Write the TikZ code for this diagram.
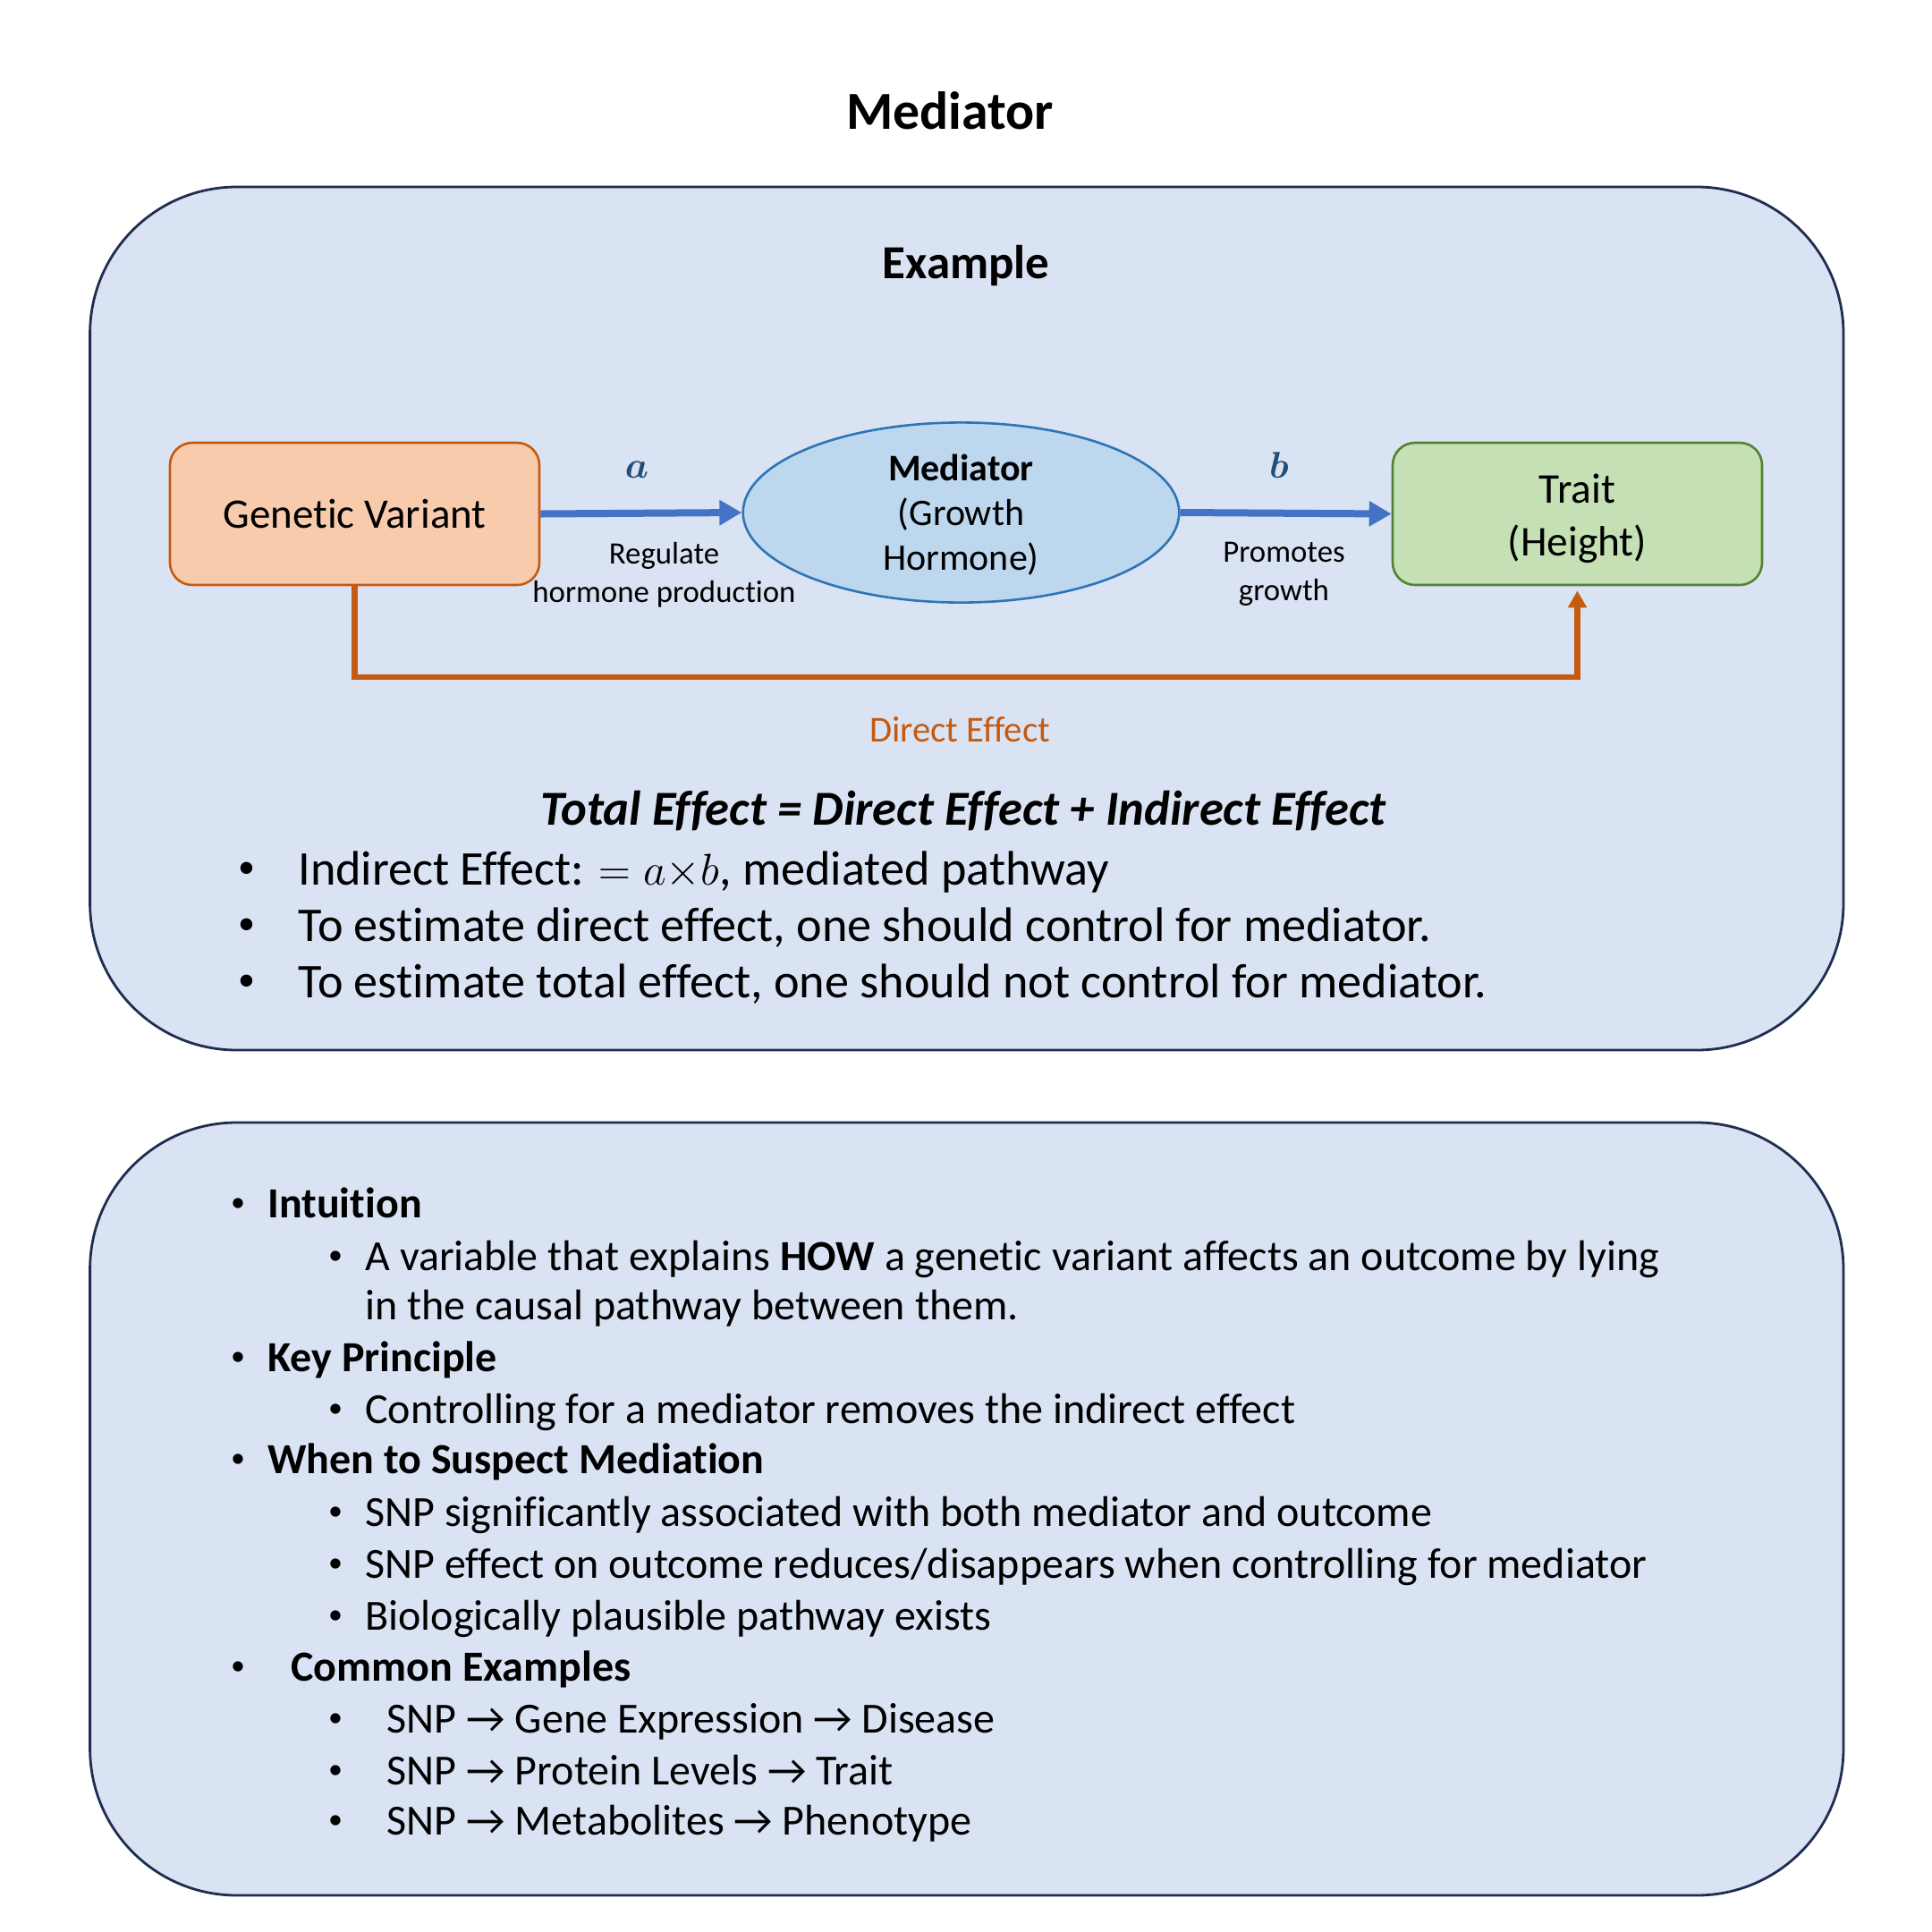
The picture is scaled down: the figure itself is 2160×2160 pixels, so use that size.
\documentclass[tikz,border=0pt]{standalone}
\usepackage{amsmath}
\usepackage{fontspec}
\setmainfont{Carlito}[Ligatures=NoCommon]
\usetikzlibrary{arrows.meta,shapes.geometric}
\definecolor{panelfill}{HTML}{DAE3F3}
\definecolor{paneldraw}{HTML}{1F2D50}
\definecolor{gvfill}{HTML}{F8CBAD}
\definecolor{gvdraw}{HTML}{C55A11}
\definecolor{medfill}{HTML}{BDD7EE}
\definecolor{meddraw}{HTML}{2E75B6}
\definecolor{trfill}{HTML}{C5E0B4}
\definecolor{trdraw}{HTML}{548235}
\definecolor{arrblue}{HTML}{4472C4}
\definecolor{arrorange}{HTML}{C55A11}
\definecolor{labblue}{HTML}{1F4E79}
\tikzset{
  panel/.style={draw=paneldraw, fill=panelfill, line width=1.4pt, rounded corners=82pt},
  varbox/.style={rectangle, rounded corners=12.5pt, line width=1.3pt, minimum width=206.5pt, minimum height=79.5pt, inner sep=0pt, align=center},
  blueconn/.style={draw=arrblue, line width=4pt, -{Triangle[length=12.5pt,width=13.5pt]}},
  orangeconn/.style={draw=arrorange, line width=3.3pt, -{Triangle[length=9.5pt,width=10pt]}},
  bigtext/.style={font=\fontsize{27.1}{32}\selectfont, inner sep=0pt},
  bigdot/.style={font=\fontsize{19}{22}\selectfont, inner sep=0pt, anchor=mid},
  lowtext/.style={font=\fontsize{24}{29}\selectfont, inner sep=0pt},
  lowdot/.style={font=\fontsize{16}{20}\selectfont, inner sep=0pt, anchor=mid},
  smalllab/.style={font=\fontsize{17.4}{21.5}\selectfont, inner sep=0pt, align=center},
}
\begin{document}
\begin{tikzpicture}[x=0.5pt,y=-0.5pt]
\useasboundingbox (0,0) rectangle (2160,2160);
\fill[white] (0,0) rectangle (2160,2160);

% title
\node[inner sep=0pt, font=\fontsize{29.9}{34}\selectfont\bfseries, anchor=mid] (title) at (1062,140) {Mediator};

% panels
\draw[panel] (100.6,209) rectangle (2061,1174);
\draw[panel] (100.6,1255) rectangle (2061,2119);

\node[inner sep=0pt, font=\fontsize{26.5}{30}\selectfont\bfseries, anchor=mid] (example) at (1080,307) {Example};

% diagram nodes
\node[varbox, draw=gvdraw, fill=gvfill, font=\fontsize{23.5}{28}\selectfont] (gv) at (396.5,574.5) {Genetic Variant};
\node[ellipse, draw=meddraw, fill=medfill, line width=1.3pt, minimum width=243.8pt, minimum height=100.6pt, inner sep=0pt] (med) at (1074.5,573) {};
\node[inner sep=0pt, align=center, font=\fontsize{21}{25}\selectfont] (medtext) at (1074.5,576) {\textbf{Mediator}\\(Growth\\Hormone)};
\node[varbox, draw=trdraw, fill=trfill] (trait) at (1763.5,574.5) {};
\node[inner sep=0pt, align=center, font=\fontsize{23.7}{29.5}\selectfont] (traittext) at (1763.5,580) {Trait\\(Height)};

% connectors
\draw[blueconn] (gv.east) -- (med.west);
\draw[blueconn] (med.east) -- (trait.west);
\coordinate (dlow) at (396.5,757);
\draw[orangeconn] (gv.south) -- (gv.south |- dlow) -| ([yshift=-2.5pt]trait.south);

% labels
\node[inner sep=0pt, text=labblue, font=\fontsize{22}{26}\selectfont, anchor=mid] (la) at (712,530) {$\boldsymbol{a}$};
\node[inner sep=0pt, text=labblue, font=\fontsize{22}{26}\selectfont, anchor=mid] (lb) at (1430,530) {$\boldsymbol{b}$};
\node[smalllab] (lreg) at (742.5,643) {Regulate\\hormone production};
\node[smalllab] (lpro) at (1435.5,641.5) {Promotes\\growth};
\node[inner sep=0pt, text=arrorange, font=\fontsize{20.4}{24}\selectfont, anchor=mid] (ldir) at (1073,825) {Direct Effect};

% formula
\node[bigtext, anchor=mid, font=\fontsize{27.3}{32}\selectfont\bfseries\itshape] (total) at (1077,918) {Total Effect = Direct Effect + Indirect Effect};

\node[bigdot] (tb1) at (275.5,977) {•};
\node[bigtext, anchor=mid west] (tt1) at (333,985) {Indirect Effect: $= a{\times}b$, mediated pathway};
\node[bigdot] (tb2) at (275.5,1040) {•};
\node[bigtext, anchor=mid west] (tt2) at (333,1048) {To estimate direct effect, one should control for mediator.};
\node[bigdot] (tb3) at (275.5,1103) {•};
\node[bigtext, anchor=mid west] (tt3) at (333,1111) {To estimate total effect, one should not control for mediator.};

% lower panel
\node[lowdot] (b1) at (266,1350) {•};
\node[lowtext, anchor=mid west] (t1) at (299,1357) {\textbf{Intuition}};
\node[lowdot] (b11) at (375,1409) {•};
\node[lowtext, anchor=mid west] (t11) at (408,1416) {A variable that explains \textbf{HOW} a genetic variant affects an outcome by lying};
\node[lowtext, anchor=mid west] (t11b) at (408,1471) {in the causal pathway between them.};
\node[lowdot] (b2) at (266,1522) {•};
\node[lowtext, anchor=mid west] (t2) at (299,1529) {\textbf{Key Principle}};
\node[lowdot] (b21) at (375,1580) {•};
\node[lowtext, anchor=mid west] (t21) at (408,1587) {Controlling for a mediator removes the indirect effect};
\node[lowdot] (b3) at (266,1636) {•};
\node[lowtext, anchor=mid west] (t3) at (299,1643) {\textbf{When to Suspect Mediation}};
\node[lowdot] (b31) at (375,1695) {•};
\node[lowtext, anchor=mid west] (t31) at (408,1702) {SNP significantly associated with both mediator and outcome};
\node[lowdot] (b32) at (375,1753) {•};
\node[lowtext, anchor=mid west] (t32) at (408,1760) {SNP effect on outcome reduces/disappears when controlling for mediator};
\node[lowdot] (b33) at (375,1811) {•};
\node[lowtext, anchor=mid west] (t33) at (408,1818) {Biologically plausible pathway exists};
\node[lowdot] (b4) at (266,1868) {•};
\node[lowtext, anchor=mid west] (t4) at (325,1875) {\textbf{Common Examples}};
\node[lowdot] (b41) at (375,1926) {•};
\node[lowtext, anchor=mid west] (t41) at (432.5,1933) {SNP → Gene Expression → Disease};
\node[lowdot] (b42) at (375,1984) {•};
\node[lowtext, anchor=mid west] (t42) at (432.5,1991) {SNP → Protein Levels → Trait};
\node[lowdot] (b43) at (375,2040) {•};
\node[lowtext, anchor=mid west] (t43) at (432.5,2047) {SNP → Metabolites → Phenotype};
\end{tikzpicture}
\end{document}
